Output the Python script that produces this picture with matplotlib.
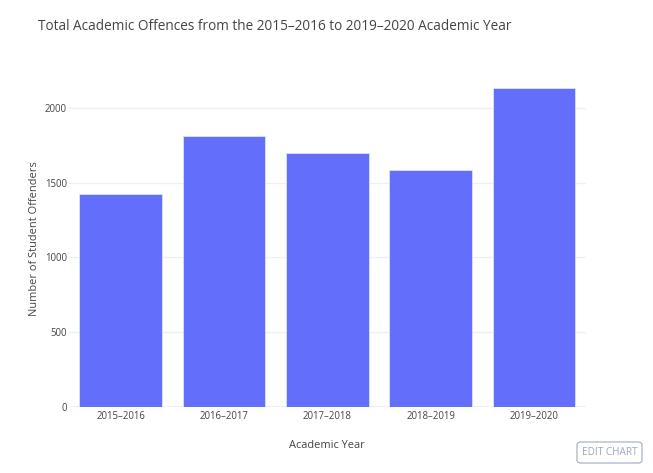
import matplotlib
matplotlib.use("Agg")
import matplotlib.pyplot as plt
from matplotlib.patches import FancyBboxPatch

# values
years = ["2015–2016", "2016–2017", "2017–2018", "2018–2019", "2019–2020"]
offenders = [1428, 1814, 1702, 1588, 2137]
y_ticks = [0, 500, 1000, 1500, 2000]

plt.rcParams["font.family"] = ["Open Sans", "DejaVu Sans"]

BAR = "#636efa"
TEXT = "#444444"
GRID = "#ebf0f8"

fig = plt.figure(figsize=(6.53, 4.73), dpi=100, facecolor="white")
ax = fig.add_axes([69 / 653, 1 - 406.7 / 473, 516.7 / 653, 335.7 / 473])

x = range(len(years))
ax.bar(x, offenders, width=0.8, color=BAR, edgecolor="#e5ecf6", linewidth=0.5, zorder=3)

ax.set_xlim(-0.5, len(years) - 0.5)
ax.set_ylim(0, max(offenders) * 1.0526)
ax.set_yticks(y_ticks)
ax.set_xticks(list(x))
ax.set_xticklabels(years)
ax.yaxis.grid(True, color=GRID, linewidth=1, zorder=0)
ax.axhline(0, color=GRID, linewidth=1.5, zorder=2)
ax.tick_params(axis="both", length=0, labelsize=6.9, labelcolor=TEXT)
ax.tick_params(axis="x", pad=3)
ax.tick_params(axis="y", pad=1.5)
for spine in ax.spines.values():
    spine.set_visible(False)

fig.text(38 / 653, 1 - 26 / 473, "Total Academic Offences from the 2015–2016 to 2019–2020 Academic Year",
         fontsize=9.8, color=TEXT, va="center", ha="left")
fig.text(327 / 653, 1 - 445 / 473, "Academic Year", fontsize=7.9, color=TEXT, ha="center", va="center")
fig.text(35 / 653, 1 - 239 / 473, "Number of Student Offenders", fontsize=7.9, color=TEXT,
         ha="center", va="center", rotation=90)

# "EDIT CHART" button in the bottom right corner
btn = FancyBboxPatch((577 / 653, 1 - 463 / 473), 65 / 653, 21 / 473,
                     boxstyle="round,pad=0,rounding_size=0.006",
                     transform=fig.transFigure, facecolor="white",
                     edgecolor="#a9b4c8", linewidth=0.9)
fig.patches.append(btn)
fig.text(609.5 / 653, 1 - 452.5 / 473, "EDIT CHART", fontsize=7.2, color="#9aa6c0",
         ha="center", va="center")

fig.savefig("out.png", dpi=100, facecolor="white")
